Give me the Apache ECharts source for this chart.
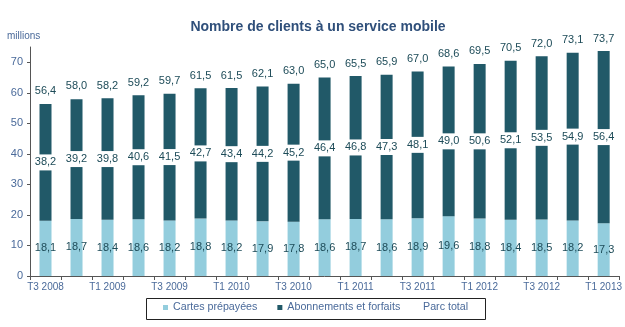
<!DOCTYPE html>
<html>
<head>
<meta charset="utf-8">
<script src="https://cdn.jsdelivr.net/npm/echarts@6/dist/echarts.min.js"></script>
<style>
  html, body { margin: 0; padding: 0; background: #fff; }
  #chart { width: 625px; height: 327px; }
</style>
</head>
<body>
<div id="chart"></div>
<script>
// Quarterly mobile subscriber counts (millions)
const quarters = [
  'T3 2008', 'T4 2008', 'T1 2009', 'T2 2009', 'T3 2009', 'T4 2009',
  'T1 2010', 'T2 2010', 'T3 2010', 'T4 2010', 'T1 2011', 'T2 2011',
  'T3 2011', 'T4 2011', 'T1 2012', 'T2 2012', 'T3 2012', 'T4 2012', 'T1 2013'
];
const prepaid = [18.1, 18.7, 18.4, 18.6, 18.2, 18.8, 18.2, 17.9, 17.8, 18.6,
                 18.7, 18.6, 18.9, 19.6, 18.8, 18.4, 18.5, 18.2, 17.3];
const subscriptions = [38.2, 39.2, 39.8, 40.6, 41.5, 42.7, 43.4, 44.2, 45.2, 46.4,
                       46.8, 47.3, 48.1, 49.0, 50.6, 52.1, 53.5, 54.9, 56.4];
const totals = [56.4, 58.0, 58.2, 59.2, 59.7, 61.5, 61.5, 62.1, 63.0, 65.0,
                65.5, 65.9, 67.0, 68.6, 69.5, 70.5, 72.0, 73.1, 73.7];
const yTicks = [0, 10, 20, 30, 40, 50, 60, 70];

const FONT = '"Liberation Sans", Arial, sans-serif';
const AXIS_TEXT = '#4a6a9a';
const LABEL_TEXT = '#1d4b58';
const fmt = v => v.toFixed(1).replace('.', ',');

const chart = echarts.init(document.getElementById('chart'), null, { renderer: 'canvas' });

const legendText = { fontFamily: FONT, fontSize: 10.7, color: AXIS_TEXT };

chart.setOption({
  animation: false,
  textStyle: { fontFamily: FONT },
  title: {
    text: 'Nombre de clients à un service mobile',
    left: 313, top: 15, textAlign: 'center',
    textStyle: { fontFamily: FONT, fontSize: 14, fontWeight: 'bold', color: '#2f4f7a' }
  },
  graphic: [
    {
      type: 'text', left: 7, top: 31,
      style: { text: 'millions', font: '10px ' + FONT, fill: AXIS_TEXT }
    },
    {
      // frame around the legend entries
      type: 'rect', left: 144, top: 296, z: 0,
      shape: { width: 339, height: 21 },
      style: { fill: 'none', stroke: '#222', lineWidth: 1 }
    }
  ],
  legend: [
    {
      left: 163, top: 302, padding: 0,
      itemWidth: 5, itemHeight: 5, itemGap: 20,
      textStyle: legendText,
      data: [
        { name: 'Cartes prépayées', icon: 'rect' },
        { name: 'Abonnements et forfaits', icon: 'rect' }
      ]
    },
    {
      left: 418, top: 302, padding: 0,
      itemWidth: 0, itemHeight: 5,
      textStyle: legendText,
      data: [{ name: 'Parc total', icon: 'none' }]
    }
  ],
  grid: { left: 30, right: 5, top: 47, bottom: 51 },
  xAxis: {
    type: 'category',
    data: quarters,
    axisLine: { lineStyle: { color: '#555', width: 1 } },
    axisTick: { show: true, interval: 0, length: 4, lineStyle: { color: '#555' } },
    axisLabel: { interval: 1, color: AXIS_TEXT, fontSize: 10, fontFamily: FONT, margin: 6 }
  },
  yAxis: {
    type: 'value', min: 0, max: 75,
    splitLine: { show: false },
    axisLine: { show: true, lineStyle: { color: '#555', width: 1 } },
    axisTick: { show: true, length: 3, customValues: yTicks, lineStyle: { color: '#555' } },
    axisLabel: { customValues: yTicks, color: AXIS_TEXT, fontSize: 11, fontFamily: FONT, margin: 7 }
  },
  series: [
    {
      name: 'Cartes prépayées', type: 'bar', stack: 'parc',
      data: prepaid, barWidth: 12,
      itemStyle: { color: '#93cddd' },
      label: {
        show: true, position: 'inside', formatter: p => fmt(p.value),
        color: LABEL_TEXT, fontSize: 11, fontFamily: FONT
      }
    },
    {
      name: 'Abonnements et forfaits', type: 'bar', stack: 'parc',
      data: subscriptions, barWidth: 12,
      itemStyle: { color: '#215968' },
      label: {
        show: true, position: 'inside', formatter: p => fmt(p.value),
        color: LABEL_TEXT, fontSize: 11, fontFamily: FONT,
        backgroundColor: '#fff', padding: [3, 1, 2, 1]
      }
    },
    {
      name: 'Parc total', type: 'scatter',
      data: totals, symbolSize: 0,
      itemStyle: { color: LABEL_TEXT },
      label: {
        show: true, position: 'top', distance: 7, formatter: p => fmt(p.value),
        color: LABEL_TEXT, fontSize: 11, fontFamily: FONT, opacity: 1
      },
      z: 5
    }
  ]
});
</script>
</body>
</html>
